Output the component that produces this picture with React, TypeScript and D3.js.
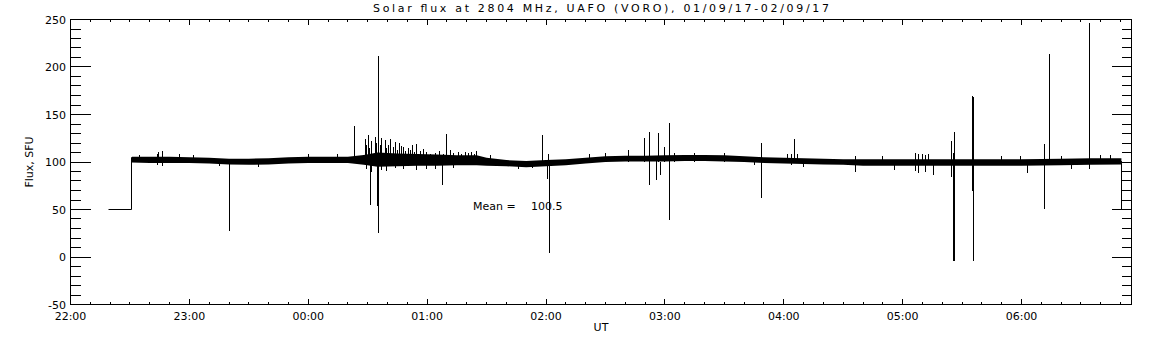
import * as d3 from 'd3';
import React from 'react';

const title = 'Solar flux at 2804 MHz, UAFO (VORO),  01/09/17-02/09/17';
const meanLabel = 'Mean =';
const meanValue = '100.5';

// times are minutes after 22:00 UT on 01/09/17
const startUT = Date.UTC(2017, 8, 1, 22, 0);
const axisEndMin = 535.5;

// 50 SFU lead-in before the receiver settles, and the drop at the end
const leadT = [19.4, 31, 31];
const leadV = [50, 50, 105];
const tailT = [530.4, 530.4];
const tailV = [101, 50];

// envelope of the dense noise band (min / max)
const bandT = [31, 40, 50, 60, 70, 80, 90, 100, 110, 120, 130, 140, 148, 155, 165, 175, 185, 195, 205, 210,
  220, 230, 240, 250, 260, 270, 280, 290, 300, 310, 320, 330, 340, 350, 360, 370, 380, 390, 400, 420,
  440, 460, 480, 500, 515, 530.4];
const bandLo = [99.5, 99, 99, 99, 98.5, 97.5, 97, 97.5, 98.5, 99, 99, 99, 97, 95, 95.5, 96, 96, 96.5, 96.5, 96,
  95.5, 94.5, 95.5, 96.5, 98.5, 100, 100.5, 100.5, 100.5, 101, 101, 100.5, 100, 99, 98.5, 98, 97.5, 97, 96, 96,
  96, 96, 96, 96.5, 97, 97.5];
const bandHi = [105.5, 105.5, 105.5, 105, 104.5, 103.5, 103.5, 104, 105, 105.5, 105.5, 105.5, 107.5, 110, 109, 108.5, 108, 107, 107, 104.5,
  102, 101, 102, 103, 104.5, 106, 106.5, 106.5, 107, 107.5, 107.5, 107, 106, 105, 104.5, 104, 103.5, 103, 103, 103,
  103, 103, 103, 103.5, 104, 104];

// individual spikes: time, top, bottom
const spikeT = [35, 43.7, 44.3, 46.3, 55, 62, 75, 80.2, 95, 120, 135, 143.3,
  148.7, 149.5, 150.4, 151, 151.4, 152.1, 153.8, 154.5, 154.9, 155.2, 155.7, 156.3, 157.2, 158.8, 159.5,
  160.5, 161.7, 162.8, 163.9, 165, 166.1, 167, 168.1, 169.3, 170.6, 171.7, 172.8, 173.8, 174.8, 176.5,
  178, 179.9, 181.5, 184.1, 186, 187.8, 188.5, 190, 191.7, 193.3, 195.9, 197.5, 199.2, 201, 202.6, 204, 205.1,
  212, 226, 233, 238.3, 240.7, 241.2, 241.8, 262, 270, 281.7, 289.8, 292, 295.9, 296.9, 297.8, 299.6, 302.4,
  305, 315, 330, 345, 348.9, 361.7, 364, 365.6, 366.7, 370, 396.2, 410, 416.1, 426.5, 428, 430, 431.5, 433,
  435.8, 444.8, 445.8, 446.4, 455.1, 455.7, 470, 479.5, 483.2, 491.8, 494.3, 500, 505, 514.5, 520, 525];
const spikeHi = [107.5, 108, 110.3, 112, 108, 107.5, 100, 100, 100, 108, 108.5, 138.4,
  124.4, 118, 128.6, 115, 105, 122.6, 126.1, 120, 110, 129, 212, 118, 125, 123.3, 115,
  117.4, 124.4, 116, 120.8, 113, 119.8, 117, 116.3, 112, 114.9, 113, 117.4, 111, 119, 112,
  114, 110.3, 108, 109, 112, 100, 108, 129.7, 112.8, 109, 110.3, 108, 110.3, 109, 111, 108, 111.2,
  107, 100, 100, 127.9, 100, 108.6, 100, 108, 109, 113, 125, 132, 104, 131, 100, 115.3, 141.3,
  110, 110, 109.5, 100, 119.5, 108.6, 108, 124.7, 108.6, 100, 106.8, 106, 100, 109, 108.6, 108, 107.5, 108,
  100, 122.6, 110, 132.1, 170, 168, 106, 105.8, 100, 118.8, 213.2, 106, 100, 246.5, 107, 107];
const spikeLo = [100, 96.5, 100, 96, 100, 100, 95.5, 27, 95, 100, 100, 100,
  100, 92.8, 100, 100, 54.5, 90, 100, 100, 54, 100, 25, 100, 92, 100, 91,
  100, 100, 100, 93.2, 100, 100, 100, 93, 100, 100, 100, 100, 100, 91.8, 100,
  100, 93, 100, 93, 100, 75.6, 100, 100, 100, 94, 100, 100, 100, 100, 100, 100, 100,
  100, 93, 93.5, 99, 81.6, 100, 4.4, 100, 100, 100, 100, 76, 81.3, 100, 86.2, 100, 39.2,
  100, 100, 100, 97, 61.9, 100, 97, 100, 100, 95, 90, 100, 91.8, 90.5, 88.6, 100, 89.5, 100,
  85.8, 84.7, -3.7, -3.7, 70, -3.7, 100, 100, 88.2, 50.3, 100, 100, 93, 92.8, 100, 100];

const yTickLabels = ['-50', '0', '50', '100', '150', '200', '250'];

const toDate = (m: number) => new Date(startUT + m * 60000);
const px = (v: number) => Math.floor(v) + 0.5;

const App: React.FC = () => {
  const W = 1152;
  const H = 345;
  const left = 70.5, right = 1131.5, top = 19.5, bottom = 304.5;

  const x = d3.scaleUtc().domain([toDate(0), toDate(axisEndMin)]).range([left, right]);
  const y = d3.scaleLinear().domain([-50, 250]).range([bottom, top]);

  const band = d3.area<number>()
    .x(i => x(toDate(bandT[i])))
    .y0(i => y(bandLo[i]))
    .y1(i => y(bandHi[i]));

  const line = d3.line<[number, number]>()
    .x(d => px(x(toDate(d[0]))))
    .y(d => y(d[1]));

  const lead = leadT.map((t, i) => [t, leadV[i]] as [number, number]);
  const tail = tailT.map((t, i) => [t, tailV[i]] as [number, number]);

  const xTicks = d3.utcMinute.every(10)!.range(x.domain()[0], x.domain()[1]);
  const yTicks = y.ticks(30);
  const fmt = d3.utcFormat('%H:%M');

  const font = { fontFamily: '"DejaVu Sans", sans-serif', fontSize: 11, fill: '#000' };

  return (
    <svg width={W} height={H} style={{ position: 'absolute', left: 0, top: 0, background: '#fff' }}>
      <rect x={0} y={0} width={W} height={H} fill="#fff" />
      <text x={(left + right) / 2} y={12} textAnchor="middle" textLength={456} lengthAdjust="spacing" {...font}>{title}</text>

      {/* data */}
      <path d={band(d3.range(bandT.length)) ?? ''} fill="#000" />
      <path d={line(lead) ?? ''} fill="none" stroke="#000" strokeWidth={1} />
      <path d={line(tail) ?? ''} fill="none" stroke="#000" strokeWidth={1} />
      <g stroke="#000" strokeWidth={1} shapeRendering="crispEdges">
        {spikeT.map((t, i) => (
          <line key={i} x1={px(x(toDate(t)))} x2={px(x(toDate(t)))} y1={y(spikeLo[i])} y2={y(spikeHi[i])} />
        ))}
      </g>

      {/* frame and ticks */}
      <g stroke="#000" strokeWidth={1} shapeRendering="crispEdges" fill="none">
        <rect x={left} y={top} width={right - left} height={bottom - top} />
        {xTicks.map(d => {
          const major = d.getUTCMinutes() === 0;
          const len = major ? 5.5 : 2.8;
          const xx = px(x(d));
          return (
            <g key={d.getTime()}>
              <line x1={xx} x2={xx} y1={bottom} y2={bottom - len} />
              <line x1={xx} x2={xx} y1={top} y2={top + len} />
            </g>
          );
        })}
        {yTicks.map(v => {
          const major = v % 50 === 0;
          const len = major ? 20 : 10;
          const yy = px(y(v));
          return (
            <g key={v}>
              <line x1={left} x2={left + len} y1={yy} y2={yy} />
              <line x1={right} x2={right - len} y1={yy} y2={yy} />
            </g>
          );
        })}
      </g>

      {xTicks.filter(d => d.getUTCMinutes() === 0).map(d => (
        <text key={d.getTime()} x={x(d)} y={320} textAnchor="middle" {...font}>{fmt(d)}</text>
      ))}
      {yTickLabels.map(s => (
        <text key={s} x={66} y={y(+s) + 4} textAnchor="end" {...font}>{s}</text>
      ))}

      <text x={(left + right) / 2} y={331} textAnchor="middle" {...font}>UT</text>
      <text transform={`translate(33,${(top + bottom) / 2}) rotate(-90)`} textAnchor="middle" {...font}>Flux, SFU</text>

      <text x={473} y={210} {...font}>{meanLabel}</text>
      <text x={531} y={210} {...font}>{meanValue}</text>
    </svg>
  );
};

export default App;
